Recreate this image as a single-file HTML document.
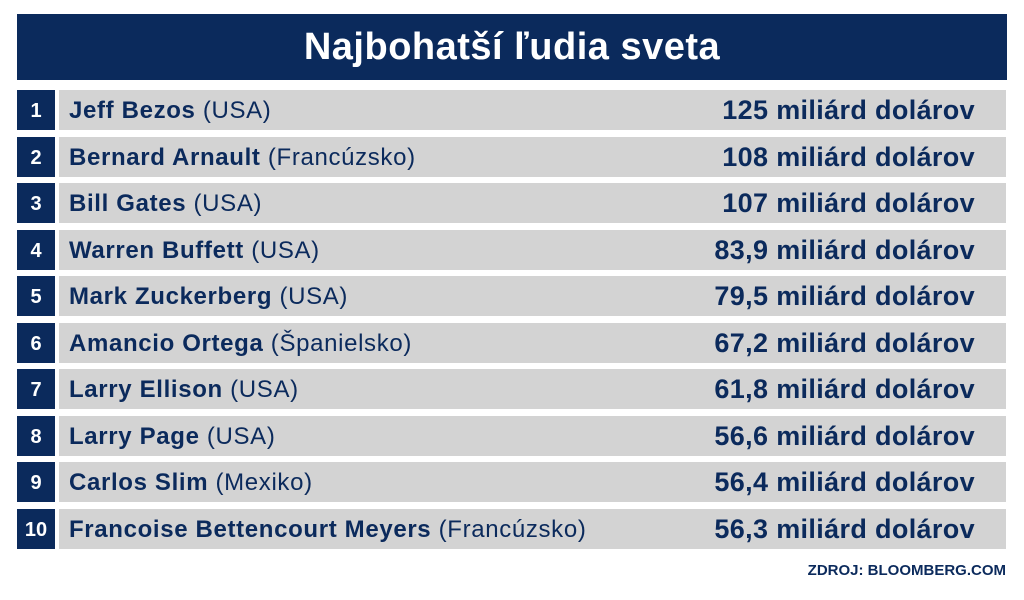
<!DOCTYPE html>
<html><head><meta charset="utf-8"><style>
body{margin:0;width:1024px;height:600px;background:#fff;font-family:"Liberation Sans",sans-serif;position:relative;overflow:hidden;color:#0b2a5c}
.t{position:absolute;left:17px;top:14px;width:990px;height:66px;background:#0b2a5c;color:#fff;font-weight:bold;font-size:38px;text-align:center;line-height:66px;letter-spacing:0.5px}
.n{position:absolute;left:17px;width:38px;height:40px;background:#0b2a5c;color:#fff;font-weight:bold;font-size:20px;text-align:center;line-height:42px}
.r{position:absolute;left:59px;width:947px;height:40px;background:#d3d3d3;line-height:41px;font-size:24px}
.r .a{position:absolute;left:10px;letter-spacing:0.65px}
.r .v{position:absolute;right:31px;font-weight:bold;font-size:27px;letter-spacing:0.35px}
.s{position:absolute;right:18px;top:562px;font-size:15px;font-weight:bold}
</style></head><body>
<div class="t">Najbohatší ľudia sveta</div>
<div class="n" style="top:90px">1</div><div class="r" style="top:90px"><span class="a"><b>Jeff Bezos</b> (USA)</span><span class="v">125 miliárd dolárov</span></div>
<div class="n" style="top:136.5px">2</div><div class="r" style="top:136.5px"><span class="a"><b>Bernard Arnault</b> (Francúzsko)</span><span class="v">108 miliárd dolárov</span></div>
<div class="n" style="top:183px">3</div><div class="r" style="top:183px"><span class="a"><b>Bill Gates</b> (USA)</span><span class="v">107 miliárd dolárov</span></div>
<div class="n" style="top:229.5px">4</div><div class="r" style="top:229.5px"><span class="a"><b>Warren Buffett</b> (USA)</span><span class="v">83,9 miliárd dolárov</span></div>
<div class="n" style="top:276px">5</div><div class="r" style="top:276px"><span class="a"><b>Mark Zuckerberg</b> (USA)</span><span class="v">79,5 miliárd dolárov</span></div>
<div class="n" style="top:322.5px">6</div><div class="r" style="top:322.5px"><span class="a"><b>Amancio Ortega</b> (Španielsko)</span><span class="v">67,2 miliárd dolárov</span></div>
<div class="n" style="top:369px">7</div><div class="r" style="top:369px"><span class="a"><b>Larry Ellison</b> (USA)</span><span class="v">61,8 miliárd dolárov</span></div>
<div class="n" style="top:415.5px">8</div><div class="r" style="top:415.5px"><span class="a"><b>Larry Page</b> (USA)</span><span class="v">56,6 miliárd dolárov</span></div>
<div class="n" style="top:462px">9</div><div class="r" style="top:462px"><span class="a"><b>Carlos Slim</b> (Mexiko)</span><span class="v">56,4 miliárd dolárov</span></div>
<div class="n" style="top:509px">10</div><div class="r" style="top:509px"><span class="a"><b>Francoise Bettencourt Meyers</b> (Francúzsko)</span><span class="v">56,3 miliárd dolárov</span></div>
<div class="s">ZDROJ: BLOOMBERG.COM</div>
</body></html>
